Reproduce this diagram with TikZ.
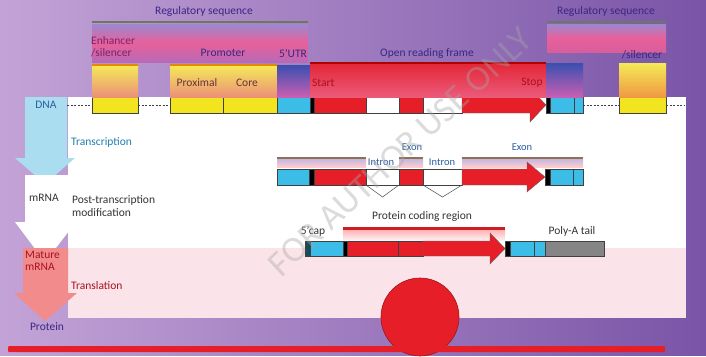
\documentclass[tikz,border=0pt]{standalone}
\usepackage{fontspec}
\setmainfont{Carlito}
\usepackage{xcolor}
\usepackage{tikz}
\usetikzlibrary{positioning,calc}

\definecolor{bgleft}{HTML}{C3A3D7}
\definecolor{bgright}{HTML}{7A54A7}
\definecolor{genyellow}{HTML}{F2E41E}
\definecolor{gencyan}{HTML}{3BBDE7}
\definecolor{genred}{HTML}{E61E28}
\definecolor{gengray}{HTML}{858585}
\definecolor{ink}{HTML}{3A2682}
\definecolor{plum}{HTML}{7C2466}
\definecolor{brownish}{HTML}{6A3040}
\definecolor{exonblue}{HTML}{2B5E9E}
\definecolor{darkred}{HTML}{A8121E}
\definecolor{skyarrow}{HTML}{AADDF0}
\definecolor{salmon}{HTML}{F28C8C}
\definecolor{blush}{HTML}{FBE4E9}
\definecolor{regpink}{HTML}{E8609A}
\definecolor{regblue}{HTML}{9C88D0}
\definecolor{regpurple}{HTML}{B86AB6}
\definecolor{barolive}{HTML}{6B7A5E}
\definecolor{utrblue}{HTML}{3A4FB0}
\definecolor{utrpink}{HTML}{C85FB2}
\definecolor{colyellow}{HTML}{F4EA58}
\definecolor{colorange}{HTML}{EC9078}
\definecolor{orftop}{HTML}{E32636}
\definecolor{orfbot}{HTML}{EC5A7A}
\definecolor{greytext}{HTML}{333333}

\begin{document}
\begin{tikzpicture}[x=1pt, y=-1pt,
  seg/.style={rectangle, draw=black!75, line width=0.5pt, inner sep=0pt, outer sep=0pt, minimum height=16pt},
  col/.style={rectangle, inner sep=0pt, outer sep=0pt},
  lbl/.style={inner sep=0pt, font=\fontsize{11.5}{12.5}\selectfont},
  small/.style={inner sep=0pt, font=\fontsize{10.5}{11}\selectfont, text=exonblue},
  hop/.style={draw=black!70, line width=0.5pt},
  dnaline/.style={draw=black!75, line width=0.6pt, dash pattern=on 2pt off 1.5pt},
  bigarrow/.style={fill=genred, draw=black!60, line width=0.4pt},
  goldedge/.style={draw=orange!80!yellow!90!black, line width=1.5pt},
  preline/.style={draw=brown!60!black!80, line width=2pt},
  preband/.style={top color=regblue!60, bottom color=pink!80}
]
% background and panels
\shade[left color=bgleft, right color=bgright] (0,0) rectangle (706,355);
\fill[white] (68,97) rectangle (686,248);
\fill[blush] (68,248) rectangle (686,318);

% flow arrows on the left
\fill[skyarrow] (25,97) -- (67,97) -- (67,158) -- (75,158) -- (45,184) -- (15,158) -- (25,158) -- cycle;
\fill[white] (25,175) -- (68,175) -- (68,222) -- (76,222) -- (45,262) -- (15,222) -- (25,222) -- cycle;
\fill[salmon] (23,248) -- (68,248) -- (68,293) -- (77,293) -- (45,321) -- (14,293) -- (23,293) -- cycle;

\node[lbl, text=exonblue, minimum width=42pt, minimum height=18pt] (dnalbl) at (46,105) {DNA};
\node[lbl, text=exonblue!80!cyan, anchor=west] (transc) at (71,142) {Transcription};
\node[lbl, text=greytext] (mrna) at (44,198) {mRNA};
\node[lbl, text=greytext, align=left, anchor=west] (posttr) at (72,206) {Post-transcription\\modification};
\node[lbl, text=darkred, align=left, anchor=west] (mature) at (25,261) {Mature\\mRNA};
\node[lbl, text=darkred, anchor=west] (transl) at (71,286) {Translation};
\node[lbl, text=ink] (protein) at (47,327) {Protein};

% regulatory sequences
\node[lbl, text=ink] (regL) at (204,11) {Regulatory sequence};
\node[lbl, text=ink] (regR) at (606,11) {Regulatory sequence};
\node[col, anchor=north west, minimum width=216pt, minimum height=38pt,
  top color=regblue, bottom color=regpurple, middle color=regpink] (bandL) at (92,24) {};
\node[col, anchor=north west, minimum width=119pt, minimum height=28pt,
  top color=regblue, bottom color=regpink!85!bgright, middle color=regpink] (bandR) at (547,24) {};
\node[col, fill=barolive, minimum width=216pt, minimum height=2.5pt, anchor=west] (barL) at (92,22) {};
\node[col, fill=barolive, minimum width=119pt, minimum height=2.5pt, anchor=west] (barR) at (547,22) {};

% DNA
\node[seg, fill=genyellow, minimum width=46pt, anchor=west] (enh) at (92,105) {};
\node[seg, fill=genyellow, minimum width=53pt, anchor=west] (prox) at (170,105) {};
\node[seg, fill=genyellow, minimum width=54pt, right=0pt of prox] (core) {};
\node[seg, fill=gencyan, minimum width=33pt, right=0pt of core] (utrA) {};
\node[seg, fill=black, minimum width=4pt, right=0pt of utrA] (startA) {};
\node[seg, fill=genred, minimum width=52pt, right=0pt of startA] (exA1) {};
\node[seg, fill=white, minimum width=33pt, right=0pt of exA1] (inA1) {};
\node[seg, fill=genred, minimum width=24pt, right=0pt of inA1] (exA2) {};
\node[seg, fill=white, minimum width=39pt, right=0pt of exA2] (inA2) {};
\draw[bigarrow] (inA2.north east) -- ++(68,0) -- ++(0,-9) -- ++(16,17) -- ++(-16,17) -- ++(0,-9) -- (inA2.south east) -- cycle;
\coordinate (tipA) at ($(inA2.east)+(84,0)$);
\node[seg, fill=black, minimum width=4pt, anchor=west] (stopA) at (tipA) {};
\node[seg, fill=gencyan, minimum width=24pt, right=0pt of stopA] (utrB1) {};
\node[seg, fill=gencyan, minimum width=9pt, right=0pt of utrB1] (utrB2) {};
\node[seg, fill=genyellow, minimum width=47pt, anchor=west] (enhB) at (619,105) {};
\coordinate (dnaend) at (684,105);
\draw[dnaline] (dnalbl.east) -- (enh.west);
\draw[dnaline] (enh.east) -- (prox.west);
\draw[dnaline] (utrB2.east) -- (enhB.west);
\draw[dnaline] (enhB.east) -- (dnaend);

% columns above the DNA
\node[col, above=0pt of enh, minimum width=46pt, minimum height=32pt, top color=colyellow, bottom color=colorange] (enhcol) {};
\node[col, anchor=south west, minimum width=107pt, minimum height=32pt, top color=colyellow, bottom color=colorange] (promcol) at (prox.north west) {};
\node[col, above=0pt of utrA, minimum width=33pt, minimum height=32pt, top color=utrblue, bottom color=utrpink] (utrcol) {};
\node[col, anchor=south west, minimum width=236pt, minimum height=34pt, top color=orftop, bottom color=orfbot] (orfcol) at (startA.north west) {};
\node[col, anchor=south west, minimum width=37pt, minimum height=34pt, top color=utrblue, bottom color=utrpink] (utrcolB) at (stopA.north west) {};
\node[col, above=0pt of enhB, minimum width=47pt, minimum height=34pt, top color=colyellow, bottom color=orange!70!brown!80] (enhcolB) {};
\draw[goldedge] (enhcol.north west) -- (enhcol.north east);
\draw[goldedge] (promcol.north west) -- (promcol.north east);
\draw[draw=red!70!black, line width=2.5pt] (orfcol.north west) -- (orfcol.north east);

\node[lbl, text=plum, align=left, anchor=west] (enhtxt) at (91,46.5) {Enhancer\\/silencer};
\node[lbl, text=ink] (promtxt) at (223,53) {Promoter};
\node[lbl, text=ink] (utrtxt) at (293,53) {5'UTR};
\node[lbl, text=ink] (orftxt) at (427,53) {Open reading frame};
\node[lbl, text=ink] (silR) at (642,55) {/silencer};
\node[lbl, text=brownish] (proxtxt) at (197,83) {Proximal};
\node[lbl, text=brownish] (coretxt) at (247,83) {Core};
\node[lbl, text=darkred, anchor=west] (starttxt) at (312,83) {Start};
\node[lbl, text=darkred] (stoptxt) at (532,83) {Stop};

% pre-mRNA
\fill[preband] (277,159) rectangle (366,167);
\fill[preband] (399,159) rectangle (423,167);
\fill[preband] (462,159) rectangle (583,167);
\draw[preline] (277,158) -- (366,158);
\draw[preline] (399,158) -- (423,158);
\draw[preline] (462,158) -- (583,158);
\node[seg, fill=gencyan, minimum width=32pt, anchor=west] (utrP) at (277,177) {};
\node[seg, fill=black, minimum width=5pt, right=0pt of utrP] (startP) {};
\node[seg, fill=genred, minimum width=52pt, right=0pt of startP] (exP1) {};
\node[seg, fill=white, minimum width=33pt, right=0pt of exP1] (inP1) {};
\node[seg, fill=genred, minimum width=24pt, right=0pt of inP1] (exP2) {};
\node[seg, fill=white, minimum width=39pt, right=0pt of exP2] (inP2) {};
\draw[bigarrow] (inP2.north east) -- ++(65,0) -- ++(0,-7) -- ++(18,15) -- ++(-18,15) -- ++(0,-7) -- (inP2.south east) -- cycle;
\coordinate (tipP) at ($(inP2.east)+(83,0)$);
\node[seg, fill=black, minimum width=5pt, anchor=west] (stopP) at (tipP) {};
\node[seg, fill=gencyan, minimum width=23pt, right=0pt of stopP] (utrP2) {};
\node[seg, fill=gencyan, minimum width=10pt, right=0pt of utrP2] (utrP3) {};
\draw[hop] (inP1.south west) -- ($(inP1.south)+(0,12)$) -- (inP1.south east);
\draw[hop] (inP2.south west) -- ($(inP2.south)+(0,12)$) -- (inP2.south east);
\node[small] (exon1) at (412,147) {Exon};
\node[small] (exon2) at (522,147) {Exon};
\node[small] (intron1) at (381,162.5) {Intron};
\node[small] (intron2) at (442,162.5) {Intron};

% mature mRNA
\fill[top color=pink!90!red, bottom color=blush!50] (343,229) rectangle (505,240);
\draw[draw=genred!90!black, line width=3pt] (343,228) -- (505,228);
\node[lbl, text=greytext] (pcr) at (422,216) {Protein coding region};
\node[lbl, text=greytext] (cap) at (313,231) {5'cap};
\node[lbl, text=greytext] (polya) at (572,231) {Poly-A tail};
\node[seg, minimum height=15pt, fill=gencyan!40!black, minimum width=5pt, anchor=west] (capM) at (305,248.5) {};
\node[seg, minimum height=15pt, fill=gencyan, minimum width=33pt, right=0pt of capM] (utrM) {};
\node[seg, minimum height=15pt, fill=black, minimum width=4pt, right=0pt of utrM] (startM) {};
\node[seg, minimum height=15pt, fill=genred, minimum width=51pt, right=0pt of startM] (exM1) {};
\node[seg, minimum height=15pt, fill=genred, minimum width=25pt, right=0pt of exM1] (exM2) {};
\draw[bigarrow] (exM2.north east) -- ++(67,0) -- ++(0,-8) -- ++(15,15.5) -- ++(-15,15.5) -- ++(0,-8) -- (exM2.south east) -- cycle;
\coordinate (tipM) at ($(exM2.east)+(82,0)$);
\node[seg, minimum height=15pt, fill=black, minimum width=5pt, anchor=west] (stopM) at (tipM) {};
\node[seg, minimum height=15pt, fill=gencyan, minimum width=24pt, right=0pt of stopM] (utrM2) {};
\node[seg, minimum height=15pt, fill=gencyan, minimum width=11pt, right=0pt of utrM2] (utrM3) {};
\node[seg, minimum height=15pt, fill=gengray, minimum width=59pt, right=0pt of utrM3] (tail) {};

% ribosome and protein strand
\node[circle, fill=genred, draw=genred!70!black, line width=0.6pt, minimum size=78pt, inner sep=0pt] (ribo) at (420,317) {};
\node[col, fill=genred, minimum width=657pt, minimum height=6pt, anchor=west, rounded corners=1pt] (strand) at (8,349) {};

% watermark
\node[lbl, font=\fontsize{36}{36}\selectfont, text=gray!70, opacity=0.4, rotate=43] (wmark) at (400,152) {FOR AUTHOR USE ONLY};
\end{tikzpicture}
\end{document}
